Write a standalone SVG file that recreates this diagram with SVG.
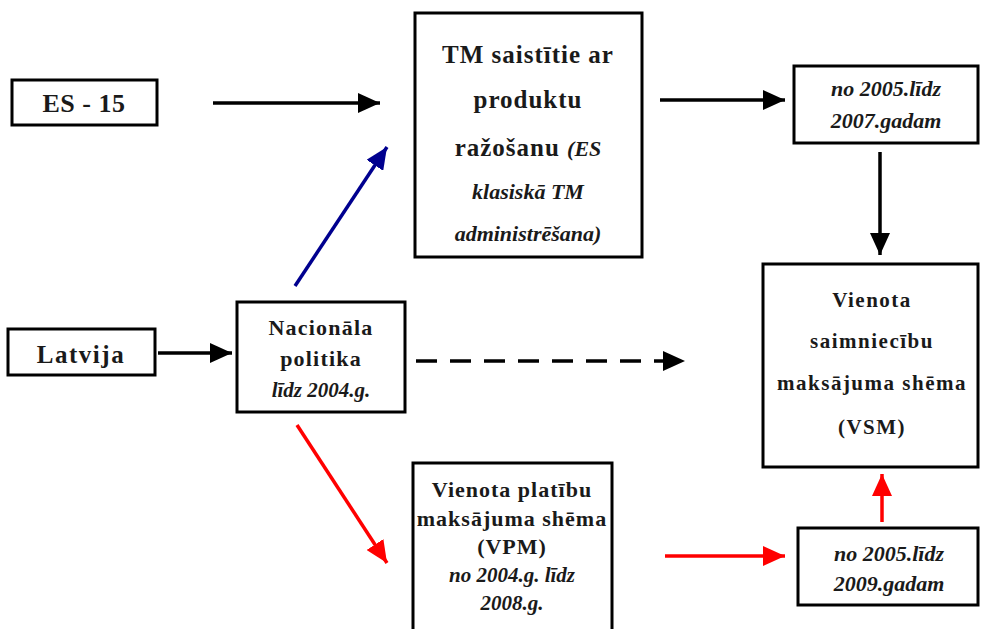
<svg xmlns="http://www.w3.org/2000/svg" width="981" height="629" viewBox="0 0 981 629">
<style>
.box{fill:#fff;stroke:#000;stroke-width:3}
.t{font-family:"Liberation Serif","Times New Roman",serif;font-weight:bold;fill:#1a1a1a;text-anchor:middle}
.i{font-style:italic}
.k{stroke:#000;stroke-width:3.5;fill:none}
.b{stroke:#00008f;stroke-width:3.5;fill:none}
.r{stroke:#ff0000;stroke-width:3.5;fill:none}
</style>
<defs>
<marker id="ak" markerUnits="userSpaceOnUse" markerWidth="22" markerHeight="20" refX="22" refY="10" orient="auto"><path d="M0,0 L22,10 L0,20 z" fill="#000"/></marker>
<marker id="ab" markerUnits="userSpaceOnUse" markerWidth="22" markerHeight="20" refX="22" refY="10" orient="auto"><path d="M0,0 L22,10 L0,20 z" fill="#00008f"/></marker>
<marker id="ar" markerUnits="userSpaceOnUse" markerWidth="22" markerHeight="20" refX="22" refY="10" orient="auto"><path d="M0,0 L22,10 L0,20 z" fill="#ff0000"/></marker>
</defs>
<rect width="981" height="629" fill="#fff"/>
<g id="connectors">
<line class="k" x1="213" y1="103" x2="380" y2="103" marker-end="url(#ak)"/>
<line class="k" x1="660" y1="100" x2="785" y2="100" marker-end="url(#ak)"/>
<line class="k" x1="880" y1="152" x2="880" y2="255" marker-end="url(#ak)"/>
<line class="k" x1="158" y1="353" x2="232" y2="353" marker-end="url(#ak)"/>
<line class="k" x1="416" y1="361" x2="685" y2="361" stroke-dasharray="21 13" marker-end="url(#ak)"/>
<line class="b" x1="295" y1="286" x2="387" y2="147" marker-end="url(#ab)"/>
<line class="r" x1="297" y1="425" x2="387" y2="563" marker-end="url(#ar)"/>
<line class="r" x1="665" y1="556" x2="785" y2="556" marker-end="url(#ar)"/>
<line class="r" x1="882" y1="522" x2="882" y2="474" marker-end="url(#ar)"/>
</g>
<g id="es15">
<rect class="box" x="12" y="80" width="145" height="45"/>
<text class="t" x="84" y="112" font-size="26" letter-spacing="0.5">ES - 15</text>
</g>
<g id="tm">
<rect class="box" x="415" y="13" width="227" height="244"/>
<text class="t" x="528" y="63" font-size="25" letter-spacing="1">TM saistītie ar</text>
<text class="t" x="528" y="108" font-size="25" letter-spacing="1">produktu</text>
<text class="t" x="528" y="156" font-size="25" letter-spacing="1">ražošanu <tspan class="i" font-size="22" letter-spacing="0">(ES</tspan></text>
<text class="t i" x="528" y="199" font-size="22">klasiskā TM</text>
<text class="t i" x="528" y="241" font-size="22">administrēšana)</text>
</g>
<g id="y2007">
<rect class="box" x="794" y="66" width="184" height="77"/>
<text class="t i" x="886" y="96" font-size="22">no 2005.līdz</text>
<text class="t i" x="886" y="128" font-size="22">2007.gadam</text>
</g>
<g id="vsm">
<rect class="box" x="763" y="264" width="215" height="203"/>
<text class="t" x="872" y="307" font-size="21" letter-spacing="1.5">Vienota</text>
<text class="t" x="872" y="348" font-size="21" letter-spacing="1.5">saimniecību</text>
<text class="t" x="872" y="390" font-size="21" letter-spacing="1.5">maksājuma shēma</text>
<text class="t" x="872" y="434" font-size="21" letter-spacing="1.5">(VSM)</text>
</g>
<g id="latvija">
<rect class="box" x="8" y="329" width="147" height="46"/>
<text class="t" x="81" y="363" font-size="25" letter-spacing="1.5">Latvija</text>
</g>
<g id="nacionala">
<rect class="box" x="237" y="302" width="168" height="110"/>
<text class="t" x="321" y="335" font-size="22" letter-spacing="1.2">Nacionāla</text>
<text class="t" x="321" y="366" font-size="22" letter-spacing="1.2">politika</text>
<text class="t i" x="321" y="397" font-size="21">līdz 2004.g.</text>
</g>
<g id="vpm">
<rect class="box" x="413" y="463" width="199" height="180"/>
<text class="t" x="512" y="497" font-size="22" letter-spacing="1">Vienota platību</text>
<text class="t" x="512" y="526" font-size="22" letter-spacing="1">maksājuma shēma</text>
<text class="t" x="512" y="554" font-size="22" letter-spacing="1">(VPM)</text>
<text class="t i" x="512" y="582" font-size="21">no 2004.g. līdz</text>
<text class="t i" x="512" y="610" font-size="21">2008.g.</text>
</g>
<g id="y2009">
<rect class="box" x="798" y="528" width="180" height="77"/>
<text class="t i" x="889" y="561" font-size="22">no 2005.līdz</text>
<text class="t i" x="889" y="591" font-size="22">2009.gadam</text>
</g>
</svg>
